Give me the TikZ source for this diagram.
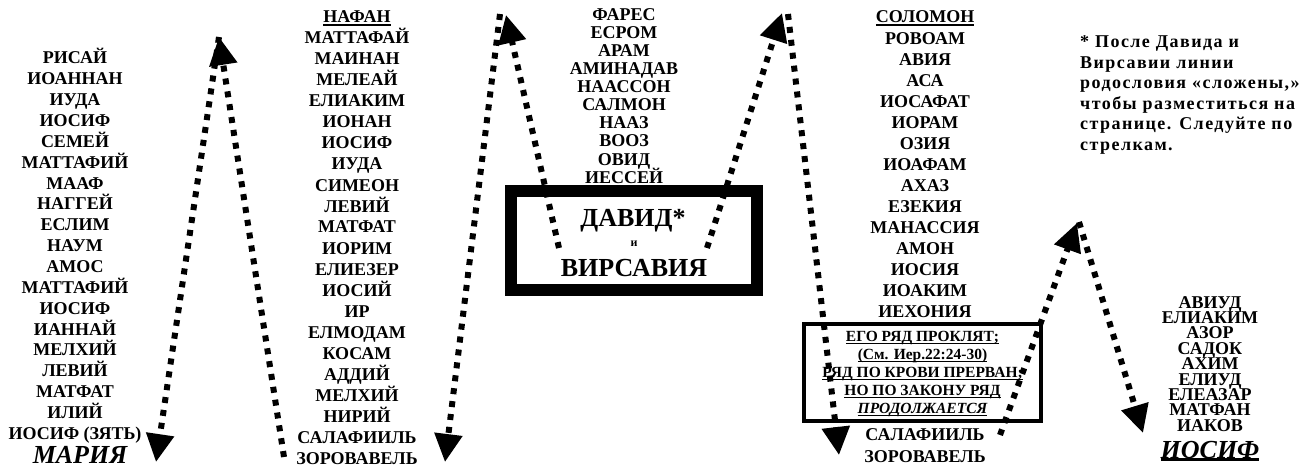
\documentclass[tikz,border=0pt]{standalone}
\usepackage{fontspec}
\setmainfont{Liberation Serif}
\newfontfamily\notefont{Liberation Serif}[LetterSpace=8]
\usetikzlibrary{arrows.meta}

\newsavebox{\ulbox}
\newcommand{\underl}[2][1.5pt]{\sbox{\ulbox}{#2}\rlap{\rule[-3pt]{\wd\ulbox}{#1}}\usebox{\ulbox}}

\begin{document}
\begin{tikzpicture}[x=1pt,y=-1pt,
  person/.style={font=\fontsize{18}{20}\selectfont\bfseries, inner sep=0pt, text height=12pt, text depth=0pt},
  bigname/.style={font=\fontsize{26}{28}\selectfont\bfseries\itshape, inner sep=0pt, text height=17pt, text depth=0pt},
  kingpair/.style={font=\fontsize{26}{28}\selectfont\bfseries, inner sep=0pt, text height=17pt, text depth=0pt},
  curseline/.style={font=\fontsize{15.5}{17}\selectfont\bfseries, inner sep=0pt, text height=10.5pt, text depth=0pt},
  arrowline/.style={line width=6pt, dash pattern=on 6pt off 7pt, -{Triangle[length=28pt,width=27pt]}}]
\useasboundingbox (0,0) rectangle (1307,468);

% Luke: Mary up to Nathan
\foreach \n [count=\i] in {РИСАЙ, ИОАННАН, ИУДА, ИОСИФ, СЕМЕЙ, МАТТАФИЙ, МААФ, НАГГЕЙ, ЕСЛИМ, НАУМ, АМОС, МАТТАФИЙ, ИОСИФ, ИАННАЙ, МЕЛХИЙ, ЛЕВИЙ, МАТФАТ, ИЛИЙ, ИОСИФ (ЗЯТЬ)}
  \node[person] (luke\i) at (75,{58+(\i-1)*20.85}) {\n};
\node[bigname] (mary) at (80,455) {МАРИЯ};

\foreach \n [count=\i] in {{\underl[2pt]{НАФАН}}, МАТТАФАЙ, МАИНАН, МЕЛЕАЙ, ЕЛИАКИМ, ИОНАН, ИОСИФ, ИУДА, СИМЕОН, ЛЕВИЙ, МАТФАТ, ИОРИМ, ЕЛИЕЗЕР, ИОСИЙ, ИР, ЕЛМОДАМ, КОСАМ, АДДИЙ, МЕЛХИЙ, НИРИЙ, САЛАФИИЛЬ, ЗОРОВАВЕЛЬ}
  \node[person] (nathan\i) at (357,{17+(\i-1)*21}) {\n};

% common line to David
\foreach \n [count=\i] in {ФАРЕС, ЕСРОМ, АРАМ, АМИНАДАВ, НААССОН, САЛМОН, НААЗ, ВООЗ, ОВИД, ИЕССЕЙ}
  \node[person] (judah\i) at (624,{15+(\i-1)*18}) {\n};

\node[draw, line width=12pt, minimum width=246pt, minimum height=99pt, inner sep=0pt] (davidbox) at (634,240.5) {};
\node[kingpair] (david) at (633,218) {ДАВИД*};
\node[font=\fontsize{12}{14}\selectfont\bfseries, inner sep=0pt, text height=5.5pt, text depth=0pt] (and) at (634,244) {и};
\node[kingpair] (bathsheba) at (634,268) {ВИРСАВИЯ};

% Matthew: Solomon down to Joseph
\foreach \n [count=\i] in {{\underl[2pt]{СОЛОМОН}}, РОВОАМ, АВИЯ, АСА, ИОСАФАТ, ИОРАМ, ОЗИЯ, ИОАФАМ, АХАЗ, ЕЗЕКИЯ, МАНАССИЯ, АМОН, ИОСИЯ, ИОАКИМ, ИЕХОНИЯ}
  \node[person] (solomon\i) at (925,{17+(\i-1)*21.07}) {\n};

\node[draw, line width=3.5pt, minimum width=237pt, minimum height=97pt] (cursebox) at (922.5,372.5) {};
\foreach \t [count=\i] in {{ЕГО РЯД ПРОКЛЯТ;}, {(См. Иер.22:24-30)}, {РЯД ПО КРОВИ ПРЕРВАН;}, {НО ПО ЗАКОНУ РЯД}}
  \node[curseline] (curse\i) at (922.5,{336+(\i-1)*18}) {\underl{\t}};
\node[curseline, font=\fontsize{15.5}{17}\selectfont\bfseries\itshape] (curse5) at (922.5,408) {\underl{ПРОДОЛЖАЕТСЯ}};

\node[person] (salathiel) at (925,434) {САЛАФИИЛЬ};
\node[person] (zorobabel) at (925,456) {ЗОРОВАВЕЛЬ};

\foreach \n [count=\i] in {АВИУД, ЕЛИАКИМ, АЗОР, САДОК, АХИМ, ЕЛИУД, ЕЛЕАЗАР, МАТФАН, ИАКОВ}
  \node[person] (abiud\i) at (1210,{302+(\i-1)*15.4}) {\n};
\node[bigname] (joseph) at (1210,449.5) {\underl[3pt]{ИОСИФ}};

\node[font=\fontsize{18}{20.6}\selectfont\notefont\bfseries, align=left, anchor=north west, inner sep=0pt] (note) at (1080,35.5) {* После Давида и\\Вирсавии линии\\родословия «сложены,»\\чтобы разместиться на\\странице. Следуйте по\\стрелкам.};

% folded arrows
\coordinate (top1) at (219,37);
\coordinate (top2) at (506,15);
\coordinate (top2b) at (500,14);
\coordinate (top3) at (782,13);
\coordinate (top3b) at (788,14);
\coordinate (top4) at (1077,223);
\coordinate (top4b) at (1079,222);
\coordinate (foot1) at (284,457);
\coordinate (end1) at (156,462);
\coordinate (foot2) at (559,248);
\coordinate (end2) at (445,462);
\coordinate (foot3) at (707,248);
\coordinate (end3) at (839,455);
\coordinate (foot4) at (1000,435);
\coordinate (end4) at (1143,433);
\draw [arrowline] (foot1) -- (top1);
\draw [arrowline] (top1) -- (end1);
\draw [arrowline] (foot2) -- (top2);
\draw [arrowline] (top2b) -- (end2);
\draw [arrowline] (foot3) -- (top3);
\draw [arrowline] (top3b) -- (end3);
\draw [arrowline] (foot4) -- (top4);
\draw [arrowline] (top4b) -- (end4);
\end{tikzpicture}
\end{document}
